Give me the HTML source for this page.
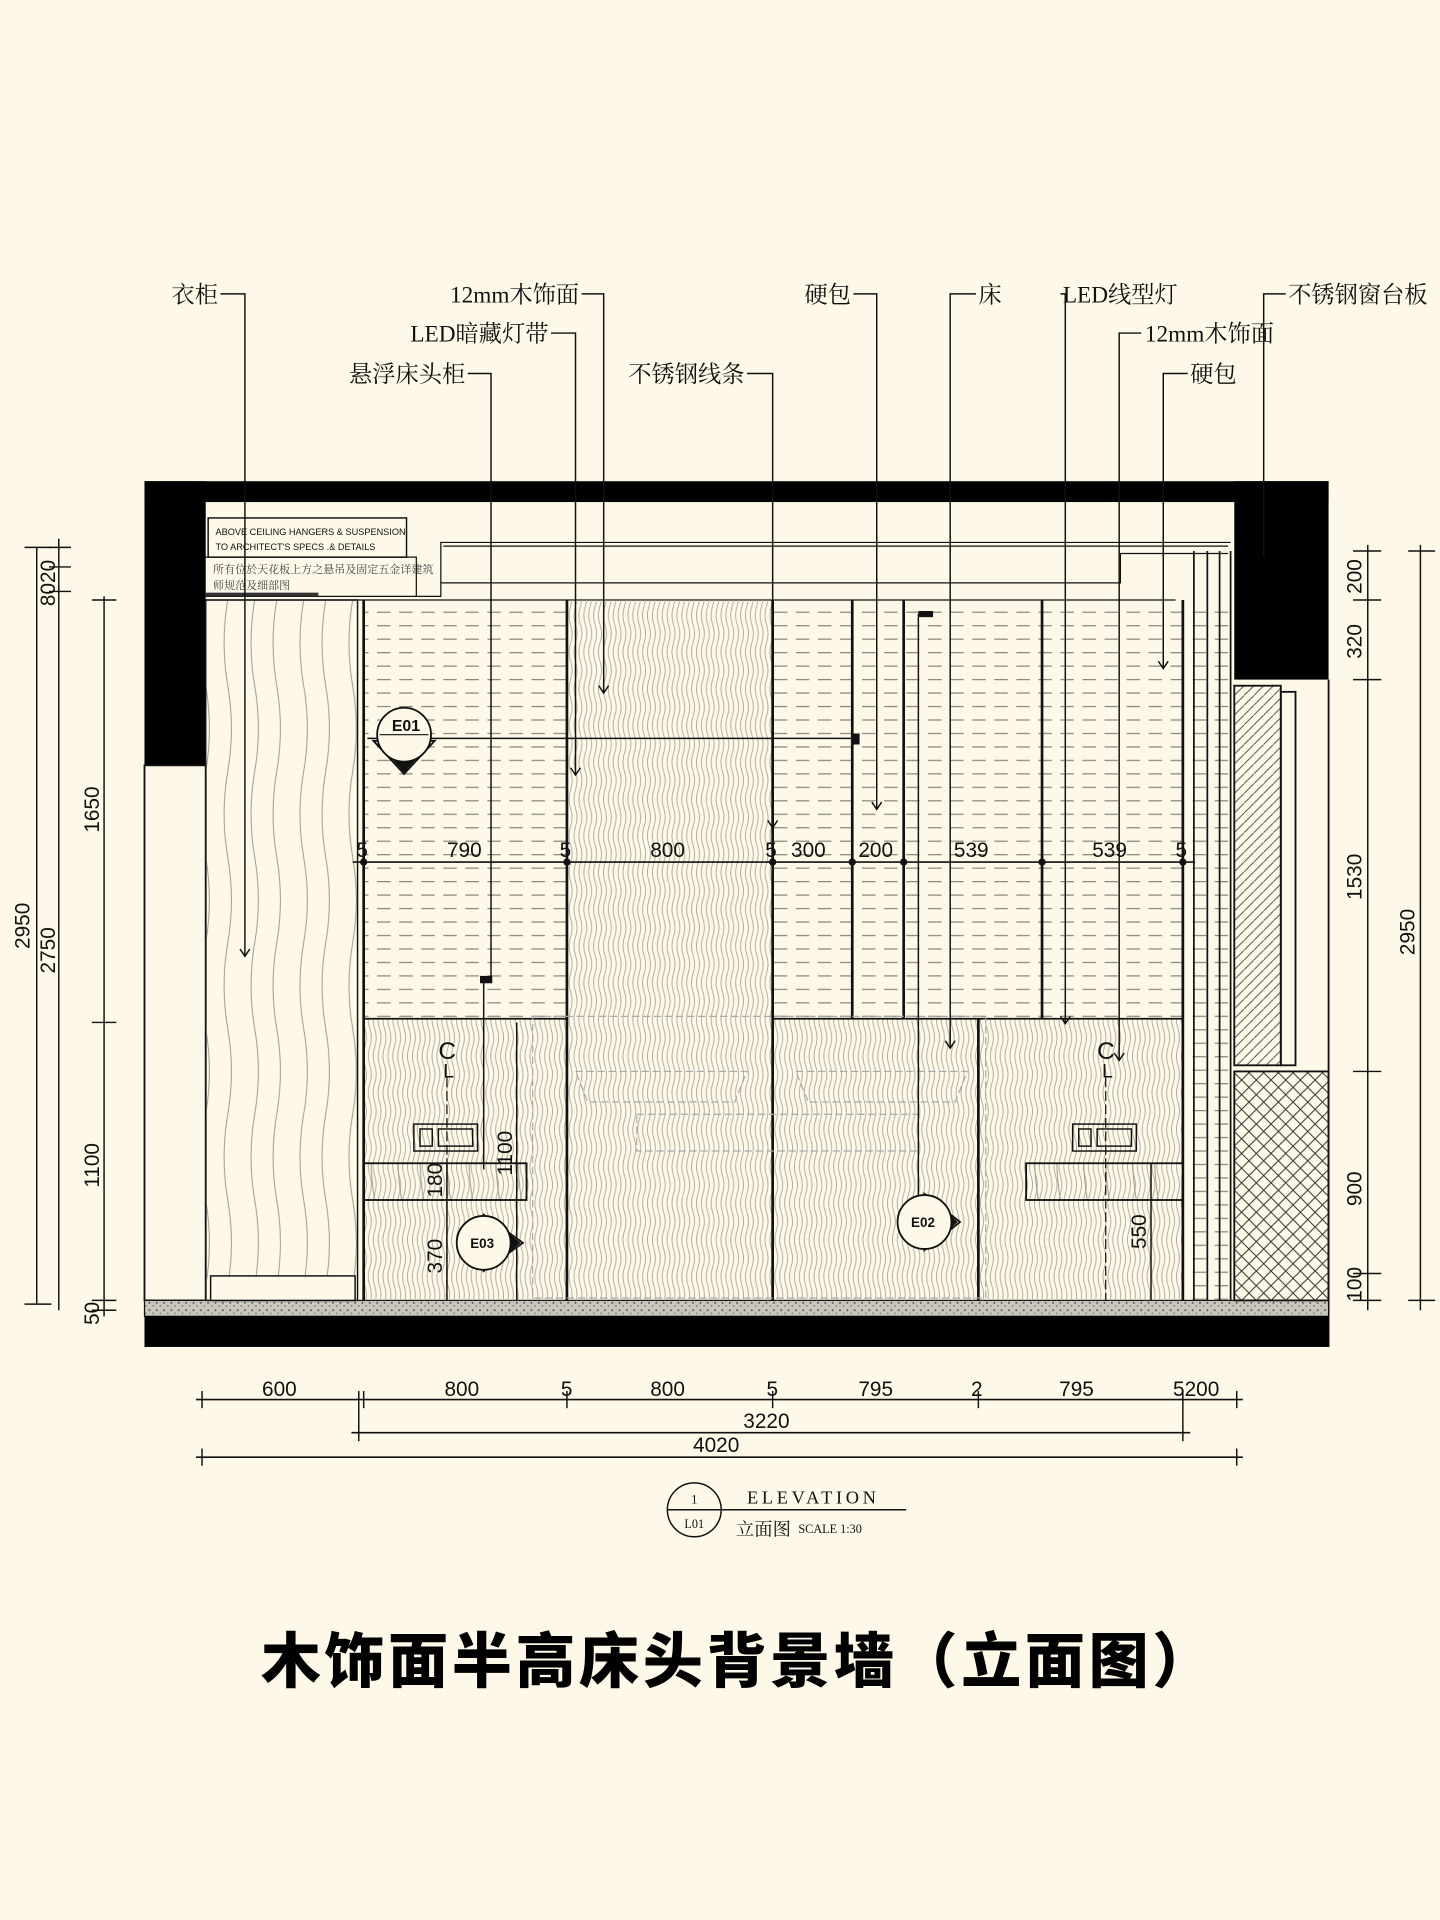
<!DOCTYPE html>
<html><head><meta charset="utf-8"><style>
html,body{margin:0;padding:0;background:#fdf8e8;}
svg{display:block}
.lb{font-family:"Liberation Serif","Noto Serif CJK SC",serif;font-size:19px;fill:#111}
.dm{font-family:"Liberation Sans","Noto Sans CJK SC",sans-serif;font-size:17px;fill:#111}
</style></head><body>
<svg width="1440" height="1920" viewBox="0 0 1176 1568" xmlns="http://www.w3.org/2000/svg">
<defs>
<pattern id="dash" width="18" height="11" patternUnits="userSpaceOnUse">
<line x1="2" y1="5" x2="13" y2="5" stroke="#8a8478" stroke-width="1"/>
</pattern>
<pattern id="wood" width="8" height="30" patternUnits="userSpaceOnUse">
<path d="M2 0 Q4.5 7.5 2 15 Q-0.5 22.5 2 30 M6 0 Q8.5 7.5 6 15 Q3.5 22.5 6 30" fill="none" stroke="#a9a497" stroke-width="0.7"/>
</pattern>
<pattern id="wood2" width="40" height="140" patternUnits="userSpaceOnUse">
<path d="M8 0 Q14 35 8 70 Q2 105 8 140 M26 0 Q32 35 26 70 Q20 105 26 140" fill="none" stroke="#9e998d" stroke-width="0.8"/>
</pattern>
<pattern id="xh" width="12" height="12" patternUnits="userSpaceOnUse">
<path d="M0 0 L12 12 M12 0 L0 12" stroke="#333" stroke-width="0.8"/>
</pattern>
<pattern id="dh" width="8" height="8" patternUnits="userSpaceOnUse">
<path d="M0 8 L8 0" stroke="#555" stroke-width="0.8"/>
</pattern>
<pattern id="spk" width="6" height="6" patternUnits="userSpaceOnUse">
<rect width="6" height="6" fill="#c9c6bd"/><circle cx="2" cy="2" r="0.8" fill="#555"/><circle cx="5" cy="4.5" r="0.6" fill="#666"/>
</pattern>
</defs>
<rect width="1176" height="1568" fill="#fdf8e8"/>

<rect x="118" y="393" width="967" height="17" fill="#000"/>
<rect x="118" y="393" width="50" height="232" fill="#000"/>
<rect x="118" y="625" width="50" height="437" fill="none" stroke="#111" stroke-width="1.5"/>
<rect x="1008" y="393" width="77" height="162" fill="#000"/>
<line x1="1085" y1="555" x2="1085" y2="1100" stroke="#111" stroke-width="1.5"/>
<rect x="118" y="1062" width="967" height="13" fill="url(#spk)" stroke="#111"/>
<rect x="118" y="1075" width="967" height="25" fill="#000"/>

<rect x="170" y="423" width="162" height="32" fill="none" stroke="#111" stroke-width="1.2"/>
<text x="176" y="437" style="font-family:'Liberation Sans';font-size:7.5px" fill="#111">ABOVE CEILING HANGERS &amp; SUSPENSION</text>
<text x="176" y="449" style="font-family:'Liberation Sans';font-size:7.5px" fill="#111">TO ARCHITECT'S SPECS .&amp; DETAILS</text>
<text x="174" y="468" style="font-family:'Noto Serif CJK SC',serif;font-size:9px" fill="#444">所有位於天花板上方之悬吊及固定五金详建筑</text>
<text x="174" y="481" style="font-family:'Noto Serif CJK SC',serif;font-size:9px" fill="#444">师规范及细部图</text>

<path d="M168 487 H360 V443 H1005 M168 490 H960" fill="none" stroke="#111" stroke-width="1"/>
<path d="M362 446 H1003 M360 476 H915 V452 H1003" fill="none" stroke="#111" stroke-width="1"/>
<path d="M168 455 H340 V487" fill="none" stroke="#111" stroke-width="1"/>
<rect x="168" y="484" width="92" height="3" fill="#333"/>

<rect x="168" y="490" width="124" height="572" fill="url(#wood2)" stroke="#111" stroke-width="1.2"/>
<rect x="172" y="1042" width="118" height="20" fill="#fdf8e8" stroke="#111" stroke-width="1.2"/>

<rect x="297" y="490" width="166" height="342" fill="url(#dash)"/>
<rect x="631" y="490" width="335" height="342" fill="url(#dash)"/>
<rect x="966" y="490" width="42" height="572" fill="url(#dash)"/>
<rect x="463" y="490" width="168" height="572" fill="url(#wood)"/>
<rect x="297" y="832" width="166" height="230" fill="url(#wood)"/>
<rect x="631" y="832" width="335" height="230" fill="url(#wood)"/>

<g stroke="#111" stroke-width="2.2">
<line x1="297" y1="490" x2="297" y2="1062"/>
<line x1="463" y1="490" x2="463" y2="1062"/>
<line x1="631" y1="490" x2="631" y2="1062"/>
<line x1="696" y1="490" x2="696" y2="832"/>
<line x1="738" y1="490" x2="738" y2="832"/>
<line x1="851" y1="490" x2="851" y2="832"/>
<line x1="966" y1="490" x2="966" y2="1062"/>
<line x1="799" y1="832" x2="799" y2="1062"/>
</g>
<g stroke="#111" stroke-width="1.4">
<line x1="297" y1="832" x2="463" y2="832"/>
<line x1="631" y1="832" x2="966" y2="832"/>
<line x1="975" y1="450" x2="975" y2="1062"/>
<line x1="986" y1="450" x2="986" y2="1062"/>
<line x1="996" y1="450" x2="996" y2="1062"/>
<line x1="1005" y1="450" x2="1005" y2="1062"/>
</g>
<g fill="none" stroke="#aaa" stroke-width="1" stroke-dasharray="6 3">
<rect x="435" y="830" width="370" height="230"/>
<path d="M470 875 H610 L600 900 H480 Z M650 875 H790 L780 900 H660 Z"/>
<rect x="520" y="910" width="230" height="30"/>
</g>

<rect x="1008" y="560" width="38" height="310" fill="url(#dh)" stroke="#111" stroke-width="1.5"/>
<rect x="1046" y="565" width="12" height="305" fill="none" stroke="#111" stroke-width="1.5"/>
<rect x="1008" y="875" width="77" height="187" fill="url(#xh)" stroke="#111" stroke-width="1.5"/>

<rect x="297" y="950" width="133" height="30" fill="url(#wood2)" stroke="#111" stroke-width="1.5"/>
<rect x="838" y="950" width="128" height="30" fill="url(#wood2)" stroke="#111" stroke-width="1.5"/>
<g fill="none" stroke="#111" stroke-width="1.2">
<rect x="338" y="918" width="52" height="22"/><rect x="343" y="922" width="10" height="14"/><rect x="358" y="922" width="28" height="14"/>
<rect x="876" y="918" width="52" height="22"/><rect x="881" y="922" width="10" height="14"/><rect x="896" y="922" width="28" height="14"/>
</g>
<text x="358" y="865" style="font-family:'Liberation Sans';font-size:20px" fill="#111">C</text>
<text x="362" y="880" style="font-family:'Liberation Sans';font-size:16px" fill="#111">L</text>
<text x="896" y="865" style="font-family:'Liberation Sans';font-size:20px" fill="#111">C</text>
<text x="900" y="880" style="font-family:'Liberation Sans';font-size:16px" fill="#111">L</text>
<line x1="365" y1="880" x2="365" y2="1062" stroke="#111" stroke-width="1" stroke-dasharray="8 3"/>
<line x1="903" y1="880" x2="903" y2="1062" stroke="#111" stroke-width="1" stroke-dasharray="8 3"/>

<g stroke="#111" stroke-width="1.2">
<line x1="422" y1="835" x2="422" y2="1062"/>
<line x1="365" y1="950" x2="365" y2="1062"/>
<line x1="940" y1="950" x2="940" y2="1062"/>
</g>
<text class="dm" transform="translate(418,960) rotate(-90)">1100</text>
<text class="dm" transform="translate(361,978) rotate(-90)">180</text>
<text class="dm" transform="translate(361,1040) rotate(-90)">370</text>
<text class="dm" transform="translate(936,1020) rotate(-90)">550</text>

<line x1="288" y1="704" x2="976" y2="704" stroke="#111" stroke-width="1.3"/>
<g fill="#111">
<circle cx="297" cy="704" r="3"/><circle cx="463" cy="704" r="3"/><circle cx="631" cy="704" r="3"/><circle cx="696" cy="704" r="3"/><circle cx="738" cy="704" r="3"/><circle cx="851" cy="704" r="3"/><circle cx="966" cy="704" r="3"/>
</g>
<g class="dm">
<text x="291" y="700">5</text><text x="365" y="700">790</text><text x="457" y="700">5</text><text x="531" y="700">800</text><text x="625" y="700">5</text><text x="646" y="700">300</text><text x="701" y="700">200</text><text x="779" y="700">539</text><text x="892" y="700">539</text><text x="960" y="700">5</text>
</g>

<g stroke="#111" stroke-width="1.2" fill="none">
<path d="M180 240 H200 V780"/>
<path d="M475 240 H493 V565"/>
<path d="M450 272 H470 V632"/>
<path d="M382 305 H401 V800 H395 V955"/>
<path d="M610 305 H631 V675"/>
<path d="M697 240 H716 V660"/>
<path d="M797 240 H776 V855"/>
<path d="M866 240 H870 V835"/>
<path d="M932 272 H914 V865"/>
<path d="M970 305 H950 V545"/>
<path d="M1050 240 H1032 V455"/>
<path d="M300 603 H700"/>
<path d="M753 502 H750 V1000"/>
<path d="M196 775 L200 781 L204 775 M489 560 L493 566 L497 560 M466 627 L470 633 L474 627 M627 670 L631 676 L635 670 M712 655 L716 661 L720 655 M772 850 L776 856 L780 850 M866 830 L870 836 L874 830 M910 860 L914 866 L918 860 M946 540 L950 546 L954 540"/>
</g>
<rect x="696" y="599" width="6" height="9" fill="#111"/>
<rect x="392" y="797" width="10" height="6" fill="#111"/>
<rect x="750" y="499" width="12" height="5" fill="#111"/>

<g stroke="#111" stroke-width="1.5">
<path d="M305 605 L330 632 L355 605 Z" fill="#fdf8e8"/>
<path d="M314 612 L330 630 L346 612 Z" fill="#111"/>
<circle cx="330" cy="600" r="22" fill="#fdf8e8"/>
<path d="M395 992 L427 1015 L395 1038 Z" fill="#fdf8e8"/>
<path d="M405 1000 L424 1015 L405 1030 Z" fill="#111"/>
<circle cx="395" cy="1015" r="22" fill="#fdf8e8"/>
<path d="M755 975 L784 998 L755 1021 Z" fill="#fdf8e8"/>
<path d="M765 983 L781 998 L765 1013 Z" fill="#111"/>
<circle cx="755" cy="998" r="22" fill="#fdf8e8"/>
</g>
<line x1="310" y1="600" x2="350" y2="600" stroke="#111"/>
<text x="320" y="597" style="font-family:'Liberation Sans';font-size:13px;font-weight:bold" fill="#111">E01</text>
<text x="384" y="1019" style="font-family:'Liberation Sans';font-size:11px;font-weight:bold" fill="#111">E03</text>
<text x="744" y="1002" style="font-family:'Liberation Sans';font-size:11px;font-weight:bold" fill="#111">E02</text>

<g class="lb">
<text x="178" y="247" text-anchor="end">衣柜</text>
<text x="473" y="247" text-anchor="end">12mm木饰面</text>
<text x="448" y="279" text-anchor="end">LED暗藏灯带</text>
<text x="380" y="312" text-anchor="end">悬浮床头柜</text>
<text x="608" y="312" text-anchor="end">不锈钢线条</text>
<text x="695" y="247" text-anchor="end">硬包</text>
<text x="799" y="247">床</text>
<text x="868" y="247">LED线型灯</text>
<text x="935" y="279">12mm木饰面</text>
<text x="972" y="312">硬包</text>
<text x="1052" y="247">不锈钢窗台板</text>
</g>

<g stroke="#111" stroke-width="1.2">
<line x1="30" y1="447" x2="30" y2="1065"/><line x1="20" y1="447" x2="42" y2="447"/><line x1="20" y1="1065" x2="42" y2="1065"/>
<line x1="48" y1="440" x2="48" y2="1070"/><line x1="40" y1="463" x2="58" y2="463"/><line x1="40" y1="483" x2="58" y2="483"/><line x1="40" y1="447" x2="58" y2="447"/>
<line x1="85" y1="487" x2="85" y2="1075"/><line x1="75" y1="490" x2="95" y2="490"/><line x1="75" y1="835" x2="95" y2="835"/><line x1="75" y1="1062" x2="95" y2="1062"/><line x1="75" y1="1070" x2="95" y2="1070"/>
</g>
<g class="dm">
<text transform="translate(24,775) rotate(-90)">2950</text>
<text transform="translate(45,795) rotate(-90)">2750</text>
<text transform="translate(45,495) rotate(-90)">8020</text>
<text transform="translate(81,680) rotate(-90)">1650</text>
<text transform="translate(81,970) rotate(-90)">1100</text>
<text transform="translate(81,1082) rotate(-90)">50</text>
</g>
<g stroke="#111" stroke-width="1.2">
<line x1="1117" y1="445" x2="1117" y2="1070"/>
<line x1="1105" y1="450" x2="1128" y2="450"/><line x1="1105" y1="490" x2="1128" y2="490"/><line x1="1105" y1="555" x2="1128" y2="555"/><line x1="1105" y1="875" x2="1128" y2="875"/><line x1="1105" y1="1040" x2="1128" y2="1040"/><line x1="1105" y1="1062" x2="1128" y2="1062"/>
<line x1="1160" y1="445" x2="1160" y2="1070"/><line x1="1150" y1="450" x2="1172" y2="450"/><line x1="1150" y1="1062" x2="1172" y2="1062"/>
</g>
<g class="dm">
<text transform="translate(1112,485) rotate(-90)">200</text>
<text transform="translate(1112,538) rotate(-90)">320</text>
<text transform="translate(1112,735) rotate(-90)">1530</text>
<text transform="translate(1112,985) rotate(-90)">900</text>
<text transform="translate(1112,1063) rotate(-90)">100</text>
<text transform="translate(1155,780) rotate(-90)">2950</text>
</g>

<g stroke="#111" stroke-width="1.3">
<line x1="160" y1="1143" x2="1015" y2="1143"/>
<line x1="287" y1="1170" x2="972" y2="1170"/>
<line x1="160" y1="1190" x2="1015" y2="1190"/>
<g stroke-width="1.2">
<line x1="165" y1="1136" x2="165" y2="1150"/><line x1="293" y1="1136" x2="293" y2="1177"/><line x1="297" y1="1136" x2="297" y2="1150"/><line x1="463" y1="1136" x2="463" y2="1150"/><line x1="631" y1="1136" x2="631" y2="1150"/><line x1="799" y1="1136" x2="799" y2="1150"/><line x1="966" y1="1136" x2="966" y2="1177"/><line x1="1010" y1="1136" x2="1010" y2="1150"/>
<line x1="165" y1="1183" x2="165" y2="1197"/><line x1="1010" y1="1183" x2="1010" y2="1197"/>
</g>
</g>
<g class="dm">
<text x="214" y="1140">600</text><text x="363" y="1140">800</text><text x="458" y="1140">5</text><text x="531" y="1140">800</text><text x="626" y="1140">5</text><text x="701" y="1140">795</text><text x="793" y="1140">2</text><text x="865" y="1140">795</text><text x="958" y="1140">5200</text>
<text x="607" y="1166">3220</text><text x="566" y="1186">4020</text>
</g>

<circle cx="567" cy="1233" r="22" fill="none" stroke="#111" stroke-width="1.2"/>
<line x1="545" y1="1233" x2="740" y2="1233" stroke="#111" stroke-width="1.2"/>
<text x="567" y="1228" text-anchor="middle" style="font-family:'Liberation Serif';font-size:10px" fill="#111">1</text>
<text x="567" y="1248" text-anchor="middle" style="font-family:'Liberation Serif';font-size:10px" fill="#111">L01</text>
<text x="610" y="1228" style="font-family:'Liberation Serif';font-size:15px;letter-spacing:3px" fill="#111">ELEVATION</text>
<text x="601" y="1254" style="font-family:'Noto Serif CJK SC',serif;font-size:15px" fill="#111">立面图</text>
<text x="652" y="1252" style="font-family:'Liberation Serif';font-size:10px" fill="#111">SCALE 1:30</text>

<text x="603" y="1374" text-anchor="middle" style="font-family:'Noto Sans CJK SC',sans-serif;font-size:49px;font-weight:900;letter-spacing:3px" fill="#000">木饰面半高床头背景墙（立面图）</text>
</svg>
</body></html>
